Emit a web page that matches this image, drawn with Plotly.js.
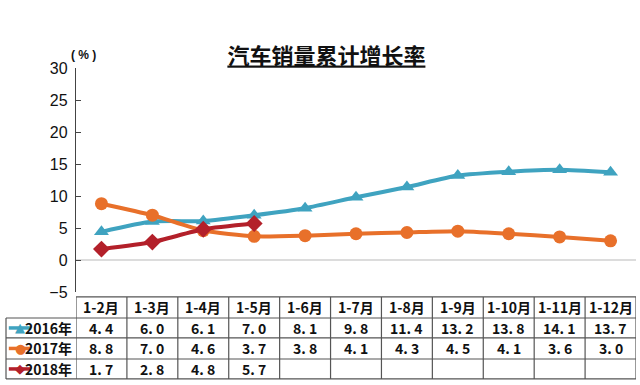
<!DOCTYPE html>
<html>
<head>
<meta charset="utf-8">
<script src="https://cdn.plot.ly/plotly-3.0.1.min.js"></script>
<style>html,body{margin:0;padding:0;background:#fff;}#chart{width:640px;height:385px;}</style>
</head>
<body>
<div id="chart"></div>
<script>
var categories = ["1-2月","1-3月","1-4月","1-5月","1-6月","1-7月","1-8月","1-9月","1-10月","1-11月","1-12月"];
var seriesNames = ["2016年","2017年","2018年"];
var sales2016 = [4.4, 6.0, 6.1, 7.0, 8.1, 9.8, 11.4, 13.2, 13.8, 14.1, 13.7];
var sales2017 = [8.8, 7.0, 4.6, 3.7, 3.8, 4.1, 4.3, 4.5, 4.1, 3.6, 3.0];
var sales2018 = [1.7, 2.8, 4.8, 5.7];
var yTicks = [-5, 0, 5, 10, 15, 20, 25, 30];

var colors = ["#3fa3c0", "#e8702a", "#b3202a"];
var symbols = ["triangle-up", "circle", "diamond"];
var glyphs = ["▲", "●", "◆"];
var allSeries = [sales2016, sales2017, sales2018];

var traces = allSeries.map(function(vals, k){
  return {
    x: categories.slice(0, vals.length),
    y: vals,
    type: "scatter",
    mode: "lines+markers",
    name: seriesNames[k],
    line: {color: colors[k], width: 4, shape: "spline", smoothing: 0.6},
    marker: {symbol: symbols[k], size: 13, color: colors[k]},
    hoverinfo: "skip"
  };
});

var rowEdges = [-0.022, -0.116, -0.205, -0.299, -0.388];
var legendLeft = -0.125;
var shapes = [];
var annotations = [];
var lineStyle = {color: "#555", width: 1.2};

shapes.push({type:"line", xref:"x", yref:"paper", x0:-0.5, x1:categories.length-0.5, y0:rowEdges[0], y1:rowEdges[0], line:lineStyle});
for (var r = 1; r < rowEdges.length; r++) {
  shapes.push({type:"line", xref:"paper", yref:"paper", x0:legendLeft, x1:1, y0:rowEdges[r], y1:rowEdges[r], line:lineStyle});
}
for (var c = 0; c <= categories.length; c++) {
  shapes.push({type:"line", xref:"x", yref:"paper", x0:c-0.5, x1:c-0.5, y0:rowEdges[0], y1:rowEdges[4], line:lineStyle});
}
shapes.push({type:"line", xref:"paper", yref:"paper", x0:legendLeft, x1:legendLeft, y0:rowEdges[1], y1:rowEdges[4], line:lineStyle});

var tableFont = {family:"Noto Sans CJK SC, Liberation Sans, sans-serif", size:14, color:"#111"};
categories.forEach(function(cat){
  annotations.push({xref:"x", yref:"paper", x:cat, y:(rowEdges[0]+rowEdges[1])/2, text:"<b>"+cat+"</b>", showarrow:false, font:tableFont, xanchor:"center", yanchor:"middle"});
});
allSeries.forEach(function(vals, k){
  var yc = (rowEdges[k+1]+rowEdges[k+2])/2;
  vals.forEach(function(v, i){
    annotations.push({xref:"x", yref:"paper", x:categories[i], y:yc, text:"<b>"+v.toFixed(1).replace(".", ". ")+"</b>", showarrow:false, font:tableFont, xanchor:"center", yanchor:"middle"});
  });
  shapes.push({type:"line", xref:"paper", yref:"paper", x0:legendLeft+0.005, x1:legendLeft+0.045, y0:yc, y1:yc, line:{color:colors[k], width:3.5}});
  annotations.push({xref:"paper", yref:"paper", x:legendLeft+0.025, y:yc, text:glyphs[k], showarrow:false, font:{family:"DejaVu Sans", size:13, color:colors[k]}, xanchor:"center", yanchor:"middle"});
  annotations.push({xref:"paper", yref:"paper", x:-0.003, y:yc, text:"<b>"+seriesNames[k]+"</b>", showarrow:false, font:tableFont, xanchor:"right", yanchor:"middle"});
});

annotations.push({xref:"paper", yref:"paper", x:-0.012, y:1.058, text:"<b>( % )</b>", showarrow:false, font:{family:"Liberation Sans, Arial, sans-serif", size:12, color:"#111"}, xanchor:"left", yanchor:"middle"});

var layout = {
  width: 640, height: 385,
  margin: {l:76, r:4, t:68, b:93},
  paper_bgcolor: "#fff", plot_bgcolor: "#fff",
  showlegend: false,
  title: {text: "<b><u>汽车销量累计增长率</u></b>", x:0.51, xanchor:"center", y:0.855, yanchor:"middle",
          font:{family:"Noto Sans CJK SC, sans-serif", size:22, color:"#111"}},
  xaxis: {type:"category", range:[-0.5, categories.length-0.5], showticklabels:false, showline:false, ticks:"", showgrid:false, zeroline:false, fixedrange:true},
  yaxis: {range:[-5, 30], tickvals:yTicks, ticktext:yTicks.map(function(v){return v<0 ? "−"+Math.abs(v) : String(v);}),
          showline:true, linecolor:"#444", linewidth:1.2, ticks:"inside", ticklen:5, tickcolor:"#444",
          showgrid:false, zeroline:true, zerolinecolor:"#dcdcdc", zerolinewidth:1.2, ticklabelstandoff:4,
          tickfont:{family:"Liberation Sans, Arial, sans-serif", size:16, color:"#111"}},
  shapes: shapes,
  annotations: annotations
};

Plotly.newPlot("chart", traces, layout, {staticPlot:true, displayModeBar:false});
</script>
</body>
</html>
